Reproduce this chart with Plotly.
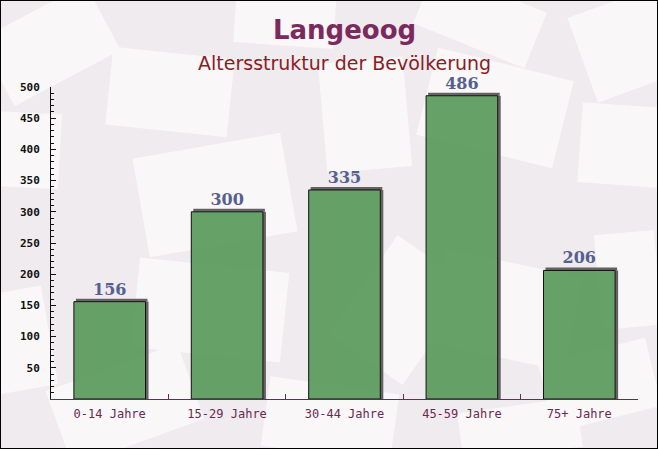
import math
import plotly.graph_objects as go

categories = ["0-14 Jahre", "15-29 Jahre", "30-44 Jahre", "45-59 Jahre", "75+ Jahre"]
values = [156, 300, 335, 486, 206]
title_text = "Langeoog"
subtitle_text = "Altersstruktur der Bevölkerung"

W, H = 658, 449
ML, MR, MT, MB = 51, 20, 87, 50
PW, PH = W - ML - MR, H - MT - MB

bar_w = 0.61
px_x = 5 / PW          # one pixel in category units (5 categories over plot width)
px_y = 500 / PH        # one pixel in value units
sdx, sdy = 3 * px_x, 3 * px_y

fig = go.Figure()
# shadow: top strip
fig.add_trace(go.Bar(
    x=categories, y=[sdy] * len(values), base=values,
    width=bar_w, offset=-bar_w / 2 + 2 * px_x,
    marker=dict(color="#676064", line=dict(width=0)),
    hoverinfo="skip", showlegend=False,
))
# shadow: right strip
fig.add_trace(go.Bar(
    x=categories, y=values,
    width=sdx, offset=bar_w / 2,
    marker=dict(color="#676064", line=dict(width=0)),
    hoverinfo="skip", showlegend=False,
))
# main bars
fig.add_trace(go.Bar(
    x=categories, y=values,
    width=bar_w, offset=-bar_w / 2,
    marker=dict(color="rgba(78,148,80,0.86)", line=dict(color="#111111", width=1)),
    text=[str(v) for v in values], textposition="outside",
    textfont=dict(family="DejaVu Serif", size=16, color="#56608e", weight="bold"),
    cliponaxis=False, showlegend=False,
))


def px2paper(x, y):
    return (x - ML) / PW, (H - MB - y) / PH


def rot_rect(cx, cy, w, h, ang):
    a = math.radians(ang)
    pts = []
    for dx, dy in [(-w / 2, -h / 2), (w / 2, -h / 2), (w / 2, h / 2), (-w / 2, h / 2)]:
        x = cx + dx * math.cos(a) - dy * math.sin(a)
        y = cy + dx * math.sin(a) + dy * math.cos(a)
        pts.append(px2paper(x, y))
    return "M " + " L ".join(f"{p[0]:.4f},{p[1]:.4f}" for p in pts) + " Z"


# decorative background envelopes (pixel centre, size, angle)
envelopes = [
    (50, 45, 120, 75, -28), (170, 92, 122, 78, 6), (215, 195, 150, 100, -10),
    (285, 18, 100, 55, 4), (25, 150, 70, 75, 3), (480, 18, 120, 60, 22),
    (495, 108, 140, 90, 14), (625, 45, 90, 90, -20), (620, 145, 80, 80, 4),
    (365, 115, 85, 110, -5), (20, 340, 60, 100, -10), (210, 310, 150, 90, 6),
    (125, 405, 140, 80, -20), (505, 310, 140, 95, 12), (628, 280, 60, 95, -5),
    (600, 385, 110, 70, -14), (400, 310, 90, 120, 35), (330, 420, 130, 70, 8),
    (520, 430, 120, 50, -8),
]
shapes = [dict(type="path", xref="paper", yref="paper", path=rot_rect(*e),
               fillcolor="#f9f7f7", line=dict(width=0), layer="below") for e in envelopes]
x0, y0 = px2paper(0, H)
x1, y1 = px2paper(W, 0)
shapes.append(dict(type="rect", xref="paper", yref="paper", x0=x0, y0=y0, x1=x1, y1=y1,
                   line=dict(color="#000000", width=2), layer="above"))

ty = px2paper(0, 30)[1]
sy = px2paper(0, 63)[1]
fig.update_layout(
    width=W, height=H,
    margin=dict(l=ML, r=MR, t=MT, b=MB),
    paper_bgcolor="#efebee", plot_bgcolor="rgba(0,0,0,0)",
    barmode="overlay",
    annotations=[
        dict(text=title_text, x=0.5, y=ty, xref="paper", yref="paper", yanchor="middle",
             showarrow=False, font=dict(family="DejaVu Sans", size=26, color="#7a2a5c", weight="bold")),
        dict(text=subtitle_text, x=0.5, y=sy, xref="paper", yref="paper", yanchor="middle",
             showarrow=False, font=dict(family="DejaVu Sans", size=19, color="#8b1c24")),
    ],
    shapes=shapes,
)

fig.update_xaxes(
    showline=True, linecolor="#6b2a50", linewidth=1,
    ticks="inside", tickson="boundaries", ticklen=5, tickcolor="#6b2a50",
    tickfont=dict(family="DejaVu Sans Mono", size=12, color="#6b2a50"),
    ticklabelstandoff=4,
    showgrid=False, range=[-0.5, 4.5],
)
fig.update_yaxes(
    range=[0, 500], tickvals=[50, 100, 150, 200, 250, 300, 350, 400, 450, 500],
    showline=True, linecolor="#111111", linewidth=1,
    ticks="inside", ticklen=5, tickcolor="#111111",
    minor=dict(dtick=10, ticks="inside", ticklen=3, tickcolor="#111111"),
    tickfont=dict(family="DejaVu Sans Mono", size=11, color="#111111", weight="bold"),
    ticklabelstandoff=8,
    showgrid=False, zeroline=False,
)

fig.write_html("out.html")
